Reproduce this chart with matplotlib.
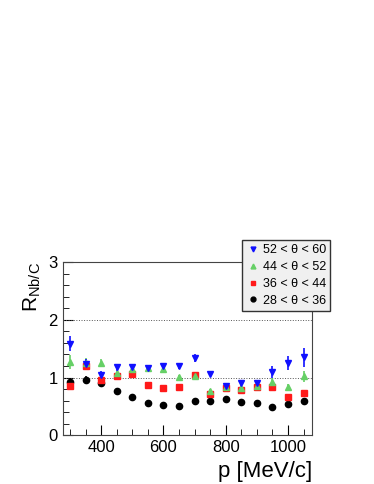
import numpy as np
import matplotlib.pyplot as plt
from matplotlib.ticker import MultipleLocator
from matplotlib.lines import Line2D

plt.rcParams['font.family'] = ['Liberation Sans', 'DejaVu Sans']
plt.rcParams['mathtext.fontset'] = 'custom'
plt.rcParams['mathtext.rm'] = 'Liberation Sans'

p = [300, 350, 400, 450, 500, 550, 600, 650, 700, 750, 800, 850, 900, 950, 1000, 1050]

r_52_60 = [1.59, 1.23, 1.04, 1.175, 1.19, 1.17, 1.20, 1.20, 1.34, 1.06, 0.86, 0.90, 0.90, 1.10, 1.245, 1.35]
e_52_60 = [0.13, 0.10, 0.07, 0.06, 0.05, 0.05, 0.05, 0.05, 0.07, 0.04, 0.04, 0.05, 0.05, 0.10, 0.12, 0.17]

r_44_52 = [1.27, 1.25, 1.26, 1.07, 1.14, 1.17, 1.14, 1.01, 1.03, 0.765, 0.84, 0.82, 0.86, 0.93, 0.83, 1.02]
e_44_52 = [0.12, 0.09, 0.07, 0.05, 0.04, 0.04, 0.04, 0.03, 0.03, 0.04, 0.03, 0.04, 0.04, 0.06, 0.06, 0.10]

r_36_44 = [0.86, 1.20, 0.955, 1.03, 1.065, 0.87, 0.815, 0.83, 1.05, 0.72, 0.82, 0.78, 0.83, 0.83, 0.665, 0.735]
e_36_44 = [0.08, 0.06, 0.04, 0.03, 0.03, 0.02, 0.02, 0.02, 0.03, 0.02, 0.02, 0.02, 0.02, 0.02, 0.02, 0.03]

r_28_36 = [0.93, 0.955, 0.91, 0.77, 0.67, 0.56, 0.515, 0.51, 0.60, 0.60, 0.63, 0.57, 0.56, 0.48, 0.545, 0.585]
e_28_36 = [0.07, 0.07, 0.05, 0.02, 0.02, 0.02, 0.02, 0.02, 0.02, 0.02, 0.02, 0.02, 0.02, 0.02, 0.02, 0.02]

labels = ['52 < θ < 60', '44 < θ < 52', '36 < θ < 44', '28 < θ < 36']
colors = ['#1010ff', '#66d066', '#ff1a1a', 'black']
markers = ['v', '^', 's', 'o']

fig = plt.figure(figsize=(3.74, 4.84), dpi=100)
ax = fig.add_axes([0.168, 0.101, 0.666, 0.357])

ax.axhline(1, color='#555555', lw=0.7, ls=':')
ax.axhline(2, color='#555555', lw=0.7, ls=':')

series = [(r_52_60, e_52_60), (r_44_52, e_44_52), (r_36_44, e_36_44), (r_28_36, e_28_36)]
# draw black first so blue ends up on top
for i in [3, 2, 1, 0]:
    r, e = series[i]
    ax.errorbar(p, r, yerr=e, fmt=markers[i], color=colors[i], ms=4.5, elinewidth=1.2, capsize=0)

ax.set_xlim(277, 1077)
ax.set_ylim(0, 3)
ax.xaxis.set_major_locator(MultipleLocator(200))
ax.xaxis.set_minor_locator(MultipleLocator(50))
ax.yaxis.set_major_locator(MultipleLocator(1))
ax.yaxis.set_minor_locator(MultipleLocator(0.2))
ax.tick_params(which='both', direction='in', labelsize=12)
ax.tick_params(which='major', length=7)
ax.tick_params(which='minor', length=4)
for s in ax.spines.values():
    s.set_color('#444444')

ax.set_xlabel('p [MeV/c]', fontsize=16, loc='right')
ax.set_ylabel(r'R$_{\mathrm{Nb/C}}$', fontsize=15, loc='top')

h = [Line2D([], [], ls='none', marker=markers[i], color=colors[i], ms=3.5) for i in range(4)]
leg = fig.legend(h, labels, loc='upper left', bbox_to_anchor=(0.647, 0.504),
                 borderaxespad=0, fontsize=9, frameon=True, fancybox=False, handletextpad=0.3,
                 handlelength=1.0, borderpad=0.35, labelspacing=0.38)
leg.get_frame().set_facecolor('#f0f0f0')
leg.get_frame().set_edgecolor('#333333')
leg.get_frame().set_alpha(1)

fig.savefig('out.png', dpi=100)
